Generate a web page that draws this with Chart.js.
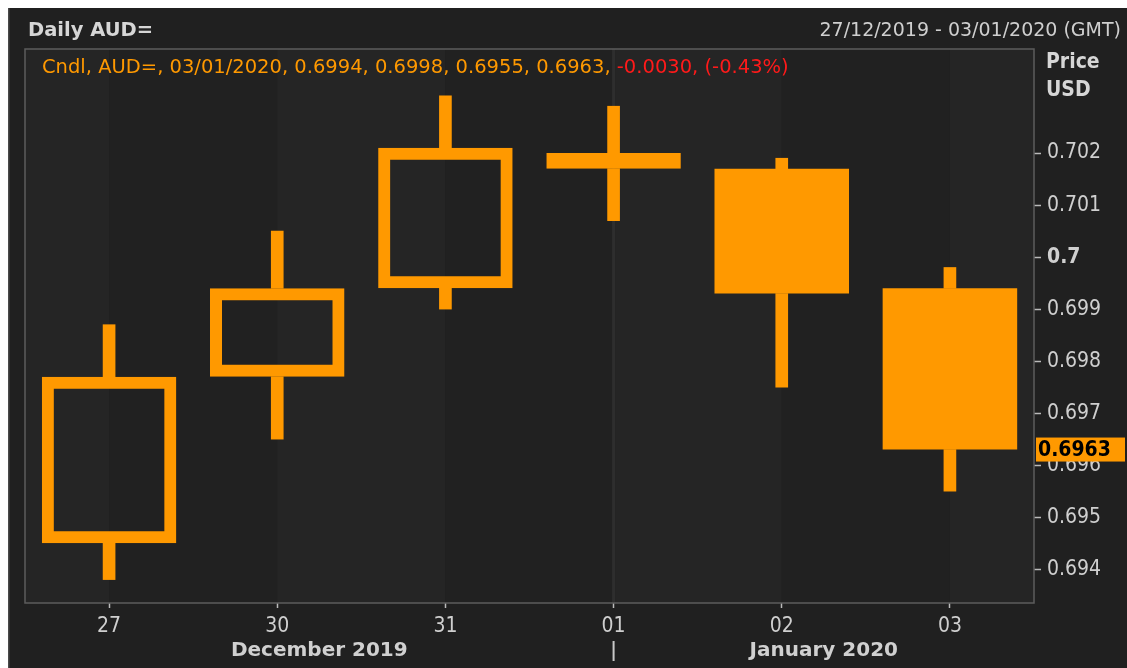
<!DOCTYPE html>
<html>
<head>
<meta charset="utf-8">
<script src="https://cdn.jsdelivr.net/npm/chart.js@4/dist/chart.umd.min.js"></script>
<style>
  html, body { margin: 0; padding: 0; background: #ffffff; }
  #wrap { position: absolute; left: 0; top: 0; width: 1127px; height: 668px; }
</style>
</head>
<body>
<div id="wrap"><canvas id="myChart" width="1127" height="668"></canvas></div>
<script>
// daily AUD= candles, 27/12/2019 - 03/01/2020
var days = ['27', '30', '31', '01', '02', '03'];
var opens  = [0.6945, 0.6977, 0.6994, 0.7017, 0.7017, 0.6994];
var highs  = [0.6987, 0.7005, 0.7031, 0.7029, 0.7019, 0.6998];
var lows   = [0.6938, 0.6965, 0.6990, 0.7007, 0.6975, 0.6955];
var closes = [0.6977, 0.6994, 0.7021, 0.7020, 0.6993, 0.6963];
var priceTicks = [0.694, 0.695, 0.696, 0.697, 0.698, 0.699, 0.7, 0.701, 0.702];
var months = [
  {label: 'December 2019', from: 0, to: 3},
  {label: 'January 2020', from: 3, to: 6}
];

var FONT = '"DejaVu Sans Condensed", "DejaVu Sans", sans-serif';
var WIDE = '"DejaVu Sans", sans-serif';
var ORANGE = '#ff9900';
var TEXT = '#cfcfcf';

var bodies = opens.map(function(o, i) { return [o, closes[i]]; });
var upperWicks = opens.map(function(o, i) { return [Math.max(o, closes[i]), highs[i]]; });
var lowerWicks = opens.map(function(o, i) { return [lows[i], Math.min(o, closes[i])]; });
var isUp = opens.map(function(o, i) { return closes[i] >= o; });

var last = closes.length - 1;
var chg = closes[last] - closes[last - 1];

var decor = {
  id: 'decor',
  beforeDraw: function(chart) {
    var c = chart.ctx, a = chart.chartArea, x = chart.scales.x;
    c.save();
    c.fillStyle = '#ffffff';
    c.fillRect(0, 0, chart.width, chart.height);
    c.fillStyle = '#202020';
    c.fillRect(8, 8, chart.width - 8, chart.height - 8);
    c.fillStyle = '#4a4a4a';
    c.fillRect(8, 8, 1.5, chart.height - 8);
    // alternating day bands
    var edges = [a.left];
    for (var i = 0; i < days.length; i++) edges.push(x.getPixelForValue(i));
    edges.push(a.right);
    for (var j = 0; j < edges.length - 1; j++) {
      c.fillStyle = j % 2 === 0 ? '#252525' : '#212121';
      c.fillRect(edges[j], a.top, edges[j + 1] - edges[j], a.bottom - a.top);
    }
    // month separator
    var sx = x.getPixelForValue(months[1].from);
    c.fillStyle = '#2e2e2e';
    c.fillRect(sx - 1.5, a.top, 3, a.bottom - a.top);
    c.restore();
  },
  afterDraw: function(chart) {
    var c = chart.ctx, a = chart.chartArea, x = chart.scales.x, y = chart.scales.y;
    c.save();
    c.strokeStyle = '#5c5c5c';
    c.lineWidth = 1.5;
    c.strokeRect(a.left, a.top, a.right - a.left, a.bottom - a.top);

    c.textBaseline = 'middle';
    c.fillStyle = '#d6d6d6';
    c.font = 'bold 19.5px ' + WIDE;
    c.textAlign = 'left';
    c.fillText('Daily AUD=', 28, 31);
    c.font = '19px ' + WIDE;
    c.fillStyle = TEXT;
    c.textAlign = 'right';
    c.fillText('27/12/2019 - 03/01/2020 (GMT)', 1121, 31);

    // legend line
    c.textAlign = 'left';
    c.font = '19.5px ' + WIDE;
    var s1 = 'Cndl, AUD=, 03/01/2020, ' + opens[last].toFixed(4) + ', ' + highs[last].toFixed(4) + ', ' +
             lows[last].toFixed(4) + ', ' + closes[last].toFixed(4) + ', ';
    var pct = chg / closes[last - 1] * 100;
    var s2 = chg.toFixed(4) + ', (' + pct.toFixed(2) + '%)';
    c.fillStyle = ORANGE;
    c.fillText(s1, 42, 68);
    c.fillStyle = '#ff1a1a';
    c.fillText(s2, 42 + c.measureText(s1).width, 68);

    // axis title
    c.fillStyle = '#d6d6d6';
    c.font = 'bold 21px ' + FONT;
    c.fillText('Price', 1046, 63);
    c.fillText('USD', 1046, 91);

    // last price tag
    var py = y.getPixelForValue(closes[last]);
    c.fillStyle = ORANGE;
    c.fillRect(1036, py - 12, 89, 24);
    c.fillStyle = '#000000';
    c.font = 'bold 21px ' + FONT;
    c.fillText(closes[last].toFixed(4), 1038, py + 1);

    // month labels
    c.fillStyle = '#d0d0d0';
    c.textAlign = 'center';
    c.font = 'bold 20px ' + WIDE;
    months.forEach(function(m, k) {
      var l = k === 0 ? a.left : x.getPixelForValue(m.from);
      var r = k === months.length - 1 ? a.right : x.getPixelForValue(m.to);
      c.fillText(m.label, (l + r) / 2, 651);
    });
    var sx = x.getPixelForValue(months[1].from);
    c.fillStyle = '#c8c8c8';
    c.fillRect(sx - 1, 641, 2, 20);
    c.restore();
  }
};

var ctx = document.getElementById('myChart').getContext('2d');
var myChart = new Chart(ctx, {
  type: 'bar',
  data: {
    labels: days,
    datasets: [{
        label: 'body',
        data: bodies,
        backgroundColor: isUp.map(function(u) { return u ? 'rgba(0,0,0,0)' : ORANGE; }),
        borderColor: ORANGE,
        borderWidth: isUp.map(function(u) { return u ? 12 : 0; }),
        borderSkipped: false,
        barPercentage: 0.8,
        categoryPercentage: 1,
        grouped: false,
        order: 0
      }, {
        label: 'upper',
        data: upperWicks,
        backgroundColor: ORANGE,
        borderWidth: 0,
        barThickness: 12,
        grouped: false,
        order: 1
      }, {
        label: 'lower',
        data: lowerWicks,
        backgroundColor: ORANGE,
        borderWidth: 0,
        barThickness: 12,
        grouped: false,
        order: 1
      }
    ]
  },
  options: {
    responsive: false,
    animation: false,
    events: [],
    layout: { padding: { left: 25, top: 49, right: 0, bottom: 0 } },
    plugins: {
      legend: { display: false },
      tooltip: { enabled: false }
    },
    scales: {
      x: {
        offset: true,
        border: { display: false },
        grid: { offset: false, drawOnChartArea: false, tickLength: 5, color: '#bbbbbb', tickWidth: 1.5 },
        ticks: { color: TEXT, font: { family: FONT, size: 21 }, padding: 6, maxRotation: 0 },
        afterFit: function(s) { s.height = 65; }
      },
      y: {
        position: 'right',
        min: 0.69335,
        max: 0.704,
        border: { display: false },
        grid: { drawOnChartArea: false, tickLength: 7, color: '#bbbbbb', tickWidth: 1.5 },
        afterBuildTicks: function(s) {
          s.ticks = priceTicks.map(function(v) { return { value: v }; });
        },
        ticks: {
          color: TEXT,
          padding: 6,
          font: function(c) {
            var bold = c.tick && Math.abs(c.tick.value - 0.7) < 1e-9;
            return { family: FONT, size: 21, weight: bold ? 'bold' : 'normal' };
          },
          callback: function(v) { return String(parseFloat(Number(v).toFixed(4))); }
        },
        afterFit: function(s) { s.width = 93; }
      }
    }
  },
  plugins: [decor]
});
</script>
</body>
</html>
